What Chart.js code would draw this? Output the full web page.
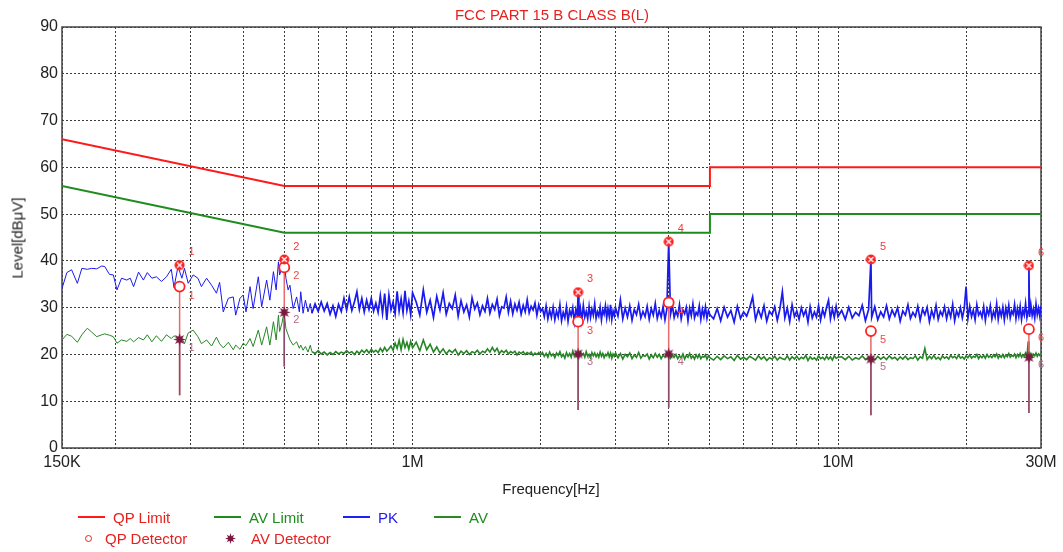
<!DOCTYPE html>
<html>
<head>
<meta charset="utf-8">
<title>FCC PART 15 B CLASS B(L)</title>
<script src="https://cdn.jsdelivr.net/npm/chart.js@4.4.1/dist/chart.umd.min.js"></script>
<style>
  body { margin: 0; background: #fff; font-family: Arial, "Liberation Sans", sans-serif; }
  #wrap { position: relative; width: 1063px; height: 552px; overflow: hidden; }
  #plot { position: absolute; left: 0; top: 0; }
  .txt { position: absolute; white-space: nowrap; font-size: 15px; line-height: 15px; }
  .title { left: 552px; top: 7px; transform: translateX(-50%); color: #e8201e; }
  .xtitle { left: 551px; top: 481px; transform: translateX(-50%); color: #222; }
  .ytitle { left: 17px; top: 238px; transform: translate(-50%, -50%) rotate(-90deg); color: #222; }
  .leg { position: absolute; display: flex; align-items: center; height: 16px; font-size: 15px; white-space: nowrap; }
  .swatch { width: 27px; height: 2px; margin-right: 8px; }
  .ring { width: 5px; height: 5px; border: 1.5px solid #e8201e; border-radius: 50%; margin-right: 13px; }
</style>
</head>
<body>
<div id="wrap">
  <canvas id="plot" width="1063" height="552"></canvas>
  <div class="txt title">FCC PART 15 B CLASS B(L)</div>
  <div class="txt xtitle">Frequency[Hz]</div>
  <div class="txt ytitle">Level[dBμV]</div>

  <div class="leg" style="left:78px;top:509px;color:#e8201e"><span class="swatch" style="background:#ff1a1a"></span>QP Limit</div>
  <div class="leg" style="left:214px;top:509px;color:#1e8c1e"><span class="swatch" style="background:#1e8c1e"></span>AV Limit</div>
  <div class="leg" style="left:343px;top:509px;color:#2020e8"><span class="swatch" style="background:#2020f0"></span>PK</div>
  <div class="leg" style="left:434px;top:509px;color:#1e8c1e"><span class="swatch" style="background:#2a8a2a"></span>AV</div>
  <div class="leg" style="left:85px;top:530px;color:#e8201e"><span class="ring"></span>QP Detector</div>
  <div class="leg" style="left:224px;top:530px;color:#e8201e"><canvas id="legStar" width="13" height="13" style="margin-right:14px"></canvas>AV Detector</div>
</div>
<script>
// limit lines (MHz, dBuV)
const limitFreq = [0.15, 0.5, 5, 5, 30];
const qpLimit = [66, 56, 56, 60, 60];
const avLimit = [56, 46, 46, 50, 50];

// sweep data, frequencies in kHz
const sweep1Khz = [150,154,158,163,167,172,176,181,186,189,
  194,198,202,207,213,217,221,227,233,238,
  244,250,257,264,271,275,281,287,291,297,
  305,313,319,328,337,346,352,359,369,379,
  384,393,400,406,415,422,434,442,454,462,
  471,478,484,487,493,499,504,510,515,524,
  534,542,546,553,560,568,575];
const pk1 = [34.1,37.5,38.1,35.2,38.4,38.2,38.4,38.3,38.9,38.8,
  37.1,37.0,33.8,36.3,35.9,36.3,34.5,37.6,35.9,37.5,
  36.3,36.6,35.6,36.6,38.2,34.3,38.8,36.3,38.4,35.2,
  37.0,36.3,34.5,36.3,34.8,33.1,35.4,29.1,32.0,32.3,
  28.4,32.0,32.7,29.1,34.5,29.8,36.6,30.2,35.9,31.6,
  37.7,33.8,39.8,37.0,38.5,40.3,36.3,33.8,34.8,29.8,
  32.3,29.1,33.4,28.8,31.6,29.1,30.9];
const av1 = [23.1,24.3,23.9,22.6,24.2,25.6,24.8,23.8,24.2,24.4,
  24.1,23.8,22.4,23.1,22.8,23.4,22.7,23.6,23.1,24.2,
  22.7,24.0,22.8,24.2,23.4,24.0,23.3,23.4,22.3,24.6,
  25.2,23.8,22.3,23.1,21.8,23.7,22.3,21.4,22.6,21.0,
  22.0,21.1,22.4,21.9,23.4,21.7,25.2,22.0,25.9,22.0,
  27.0,23.1,28.4,24.9,26.6,29.2,25.5,24.2,23.1,22.0,
  22.7,21.3,22.0,20.9,21.7,20.5,22.0];

const sweep2Khz = [580,590,600,610,620,630,640,650,660,670,
  680,690,700,710,720,730,740,750,760,770,
  780,790,800,810,820,830,840,850,860,870,
  880,890,900,910,920,930,940,950,960,970,
  980,990,1000];
const pk2 = [28.8,30.8,29.2,31.2,29.3,30.9,28.6,30.4,28.1,30.7,
  29.2,32.0,29.5,32.3,29.4,31.2,33.4,29.6,32.0,29.1,
  31.6,29.6,32.0,29.3,31.0,29.0,32.6,28.8,33.0,27.4,
  32.7,29.5,31.2,28.7,33.5,29.3,31.9,28.9,33.6,29.4,
  31.4,28.5,33.2];
const av2 = [20.6,20.2,20.8,20.1,20.5,19.9,20.4,20.0,20.6,20.1,
  20.5,20.2,20.8,20.3,20.6,20.0,20.7,20.2,20.9,20.4,
  21.0,20.3,21.1,20.5,20.9,20.4,21.3,20.6,21.5,20.7,
  21.2,21.8,20.9,22.4,21.3,23.0,21.0,23.2,21.5,22.6,
  21.1,22.8,21.4];

const sweep3Khz = [1020,1040,1060,1080,1100,1120,1140,1160,1180,1200,
  1220,1240,1260,1280,1300,1320,1340,1360,1380,1400,
  1420,1440,1460,1480,1500,1520,1540,1560,1580,1600,
  1620,1640,1660,1680,1700,1720,1740,1760,1780,1800,
  1820,1840,1860,1880,1900,1920,1940,1960,1980,2000];
const pk3 = [31.2,28.4,33.8,29.0,31.6,27.9,32.4,29.5,33.2,28.6,
  30.9,29.8,32.7,28.2,31.5,29.1,30.6,28.0,32.1,29.7,
  31.0,28.5,30.4,29.2,32.0,28.8,30.7,29.6,31.8,28.3,
  30.2,29.9,32.3,29.0,31.4,28.7,30.8,29.4,31.2,28.6,
  30.5,29.1,31.7,28.9,30.3,29.5,31.0,28.4,30.6,29.2];
const av3 = [22.6,20.8,23.1,21.0,22.2,20.5,21.6,20.3,21.2,20.1,
  20.9,20.4,21.1,19.9,20.7,20.2,20.8,20.0,20.6,20.3,
  20.9,20.1,20.7,20.4,21.2,20.5,21.5,20.6,21.3,20.2,
  20.8,20.4,20.9,20.1,20.6,20.3,20.7,19.9,20.5,20.2,
  20.6,20.0,20.4,20.1,20.5,19.8,20.3,20.0,20.4,19.9];

const sweep4Khz = [2020,2040,2060,2080,2100,2120,2140,2160,2180,2200,
  2220,2240,2260,2280,2300,2320,2340,2360,2380,2400,
  2420,2440,2450,2460,2480,2500,2520,2540,2560,2580,
  2600,2620,2640,2660,2680,2700,2720,2740,2760,2780,
  2800,2820,2840,2860,2880,2900,2920,2940,2960,2980,
  3000];
const pk4 = [29.8,28.1,30.4,27.6,29.5,27.9,30.1,27.4,29.3,28.0,
  30.6,27.2,29.0,27.8,30.2,27.1,29.4,28.3,30.0,27.0,
  29.6,28.2,33.3,27.5,29.9,27.3,30.5,28.0,29.2,27.6,
  30.3,27.9,29.7,28.4,30.8,27.7,29.1,28.2,30.1,27.4,
  29.5,28.6,30.4,27.8,29.8,28.1,30.6,27.5,29.3,28.3,
  30.0];
const av4 = [20.4,19.6,20.2,19.4,20.5,19.7,20.1,19.3,20.3,19.8,
  20.6,19.5,20.0,19.2,20.4,19.6,20.2,19.4,20.7,19.7,
  20.1,19.5,20.1,19.3,20.5,19.8,20.2,19.4,20.6,19.6,
  20.0,19.3,20.4,19.7,20.3,19.5,20.1,19.4,20.5,19.6,
  20.2,19.3,20.0,19.7,20.4,19.5,20.3,19.2,20.1,19.6,
  20.3];

const sweep5Khz = [3040,3080,3120,3160,3200,3240,3280,3320,3360,3400,
  3440,3480,3520,3560,3600,3640,3680,3720,3760,3800,
  3840,3880,3920,3960,4000,4040,4080,4120,4160,4200,
  4240,4280,4320,4360,4400,4440,4480,4520,4560,4600,
  4640,4680,4720,4760,4800,4840,4880,4920,4960,5000];
const pk5 = [28.2,31.7,27.6,29.9,28.0,30.4,27.3,29.6,28.5,30.7,
  27.8,29.2,28.1,30.3,27.5,29.8,28.4,30.9,27.7,29.4,
  28.0,30.2,27.4,29.7,44.1,28.6,30.5,27.9,29.3,28.2,
  30.6,27.6,29.5,28.7,30.1,27.2,29.9,28.3,30.8,27.8,
  29.0,28.4,30.4,27.5,29.7,28.1,30.2,27.7,29.4,28.5];
const av5 = [19.3,20.2,19.0,20.0,19.5,20.3,19.1,19.9,19.4,20.4,
  19.2,19.8,19.6,20.1,19.0,19.9,19.3,20.2,19.4,20.0,
  19.1,19.8,19.5,20.3,20.1,19.2,19.9,19.4,20.0,19.1,
  19.7,19.3,20.1,19.0,19.8,19.4,20.2,19.2,19.7,19.0,
  19.9,19.3,20.0,19.1,19.6,19.4,19.9,19.0,19.7,19.3];

const sweep6Khz = [5100,5200,5300,5400,5500,5600,5700,5800,5900,6000,
  6100,6200,6300,6400,6500,6600,6700,6800,6900,7000,
  7100,7200,7300,7400,7500,7600,7700,7800,7900,8000,
  8100,8200,8300,8400,8500,8600,8700,8800,8900,9000,
  9100,9200,9300,9400,9500,9600,9700,9800,9900,10000];
const pk6 = [27.6,29.8,27.2,30.1,28.0,29.4,26.9,30.3,27.7,29.1,
  28.2,30.0,32.3,27.4,29.6,27.9,30.4,27.1,29.2,28.5,
  30.2,27.3,29.7,33.4,27.8,29.9,27.0,30.6,28.1,29.3,
  27.5,30.0,28.3,29.5,26.9,30.2,27.8,29.1,28.0,30.4,
  27.4,29.6,28.2,30.1,31.6,27.6,29.8,27.9,30.3,28.1];
const av6 = [18.8,19.6,18.9,19.7,19.1,19.5,18.7,19.8,19.0,19.4,
  18.9,19.6,19.2,18.8,19.7,19.0,19.5,18.7,19.3,19.0,
  19.6,18.8,19.4,19.1,18.9,19.7,18.8,19.5,19.0,19.6,
  18.9,19.4,19.1,19.8,18.7,19.5,19.0,19.3,18.8,19.7,
  19.1,19.4,18.9,19.6,19.0,19.5,18.8,19.7,19.2,19.4];

const sweep7Khz = [10200,10400,10600,10800,11000,11200,11400,11600,11800,11950,12000,
  12200,12400,12600,12800,13000,13200,13400,13600,13800,14000,
  14200,14400,14600,14800,15000,15200,15400,15600,15800,16000,
  16200,16400,16600,16800,17000,17200,17400,17600,17800,18000,
  18200,18400,18600,18800,19000,19200,19400,19600,19800,20000,
  20200,20400,20600,20800,21000,21200,21400,21600,21800,22000,
  22200,22400,22600,22800,23000,23200,23400,23600,23800,24000,
  24200,24400,24600,24800,25000,25200,25400,25600,25800,26000,
  26200,26400,26600,26800,27000,27200,27400,27600,27800,28000,28100,
  28200,28400,28600,28800,29000,29200,29400,29600,29800,30000];
const pk7 = [29.4,27.5,30.1,27.8,29.0,28.3,30.5,27.2,29.6,40.3,27.9,
  30.2,27.4,29.1,28.0,30.4,27.6,29.5,28.2,30.0,27.1,
  29.3,28.4,30.6,27.7,29.0,28.1,30.3,27.3,29.7,28.5,
  30.1,27.0,29.4,27.9,30.5,27.5,29.2,28.3,30.2,27.6,
  29.6,28.0,30.7,27.2,29.3,28.2,30.0,27.8,29.8,34.5,
  27.7,30.3,28.1,29.5,27.4,30.6,28.4,29.1,27.9,30.2,
  27.3,29.7,28.5,30.4,27.6,29.2,28.0,30.8,27.5,29.6,
  28.2,30.1,27.4,29.9,28.3,30.5,27.8,29.3,28.6,30.7,
  27.7,29.8,28.1,30.3,27.5,29.5,28.4,30.9,27.9,29.4,39.0,
  28.0,30.6,28.3,29.7,27.8,30.8,28.5,29.9,28.2,30.4];
const av7 = [19.5,18.9,19.6,18.8,19.3,19.0,19.7,18.9,19.4,19.0,19.2,
  18.8,19.6,19.0,19.5,18.9,19.7,19.1,19.4,18.8,19.5,
  19.0,19.6,18.9,19.3,19.1,19.7,18.8,19.5,19.2,21.3,
  18.9,19.6,19.1,19.8,19.0,19.4,18.9,19.7,19.2,19.5,
  19.0,19.8,19.3,19.6,19.1,19.9,19.2,19.5,19.0,19.7,
  19.3,19.9,19.2,19.6,19.4,20.0,19.1,19.7,19.3,19.8,
  19.2,20.0,19.4,19.7,19.3,19.9,19.5,20.1,19.2,19.8,
  19.4,20.0,19.3,19.9,19.5,20.2,19.4,19.8,19.6,20.1,
  19.3,20.0,19.5,20.2,19.4,19.9,19.6,20.3,19.5,22.8,19.4,
  19.6,20.2,19.5,20.0,19.7,20.3,19.6,20.1,19.8,20.2];

// final measurement markers (MHz, dBuV)
const markerFreq = [0.2835, 0.4995, 2.45, 4.0, 11.95, 28.1];
const markerPk = [39.1, 40.3, 33.3, 44.1, 40.3, 39.0];
const markerQp = [34.5, 38.6, 27.0, 31.1, 25.0, 25.4];
const markerAv = [23.2, 29.0, 20.1, 20.1, 19.0, 19.4];
const markerBase = [11.3, 17.4, 8.1, 8.6, 7.0, 7.5];
const markerNames = ['1', '2', '3', '4', '5', '6'];

// x axis grid and labels (MHz)
const gridMHz = [0.15, 0.2, 0.3, 0.4, 0.5, 0.6, 0.7, 0.8, 0.9,
  1, 2, 3, 4, 5, 6, 7, 8, 9, 10, 20, 30];
const tickValues = [0.15, 1, 10, 30];
const tickLabels = ['150K', '1M', '10M', '30M'];

// build point lists
const bands = [
  [sweep1Khz, pk1, av1], [sweep2Khz, pk2, av2], [sweep3Khz, pk3, av3],
  [sweep4Khz, pk4, av4], [sweep5Khz, pk5, av5], [sweep6Khz, pk6, av6],
  [sweep7Khz, pk7, av7]
];
const pkPoints = [];
const avPoints = [];
bands.forEach(([f, pk, av]) => {
  f.forEach((k, i) => {
    pkPoints.push({ x: k / 1000, y: pk[i] });
    avPoints.push({ x: k / 1000, y: av[i] });
  });
});

const toPoints = (xs, ys) => xs.map((x, i) => ({ x: x, y: ys[i] }));
const stem = (top) => markerFreq.flatMap((f, i) => [
  { x: f, y: markerBase[i] }, { x: f, y: top[i] }, { x: f, y: null }
]);
// the dense part of the sweep is drawn a bit heavier, like the receiver plot
const denseWidth = (thin, thick) => (c) => (c.p0.parsed.x >= 0.58 ? thick : thin);

function makePkIcon() {
  const c = document.createElement('canvas');
  c.width = 11; c.height = 11;
  const g = c.getContext('2d');
  g.fillStyle = '#ff2020';
  g.beginPath(); g.arc(5.5, 5.5, 5, 0, Math.PI * 2); g.fill();
  g.strokeStyle = '#ffffff'; g.lineWidth = 1.3;
  g.beginPath(); g.moveTo(3, 3); g.lineTo(8, 8); g.moveTo(8, 3); g.lineTo(3, 8); g.stroke();
  return c;
}

function makeAvIcon(size) {
  const c = document.createElement('canvas');
  c.width = size; c.height = size;
  const g = c.getContext('2d');
  const m = size / 2;
  g.fillStyle = '#7a1840';
  g.beginPath();
  for (let i = 0; i < 16; i++) {
    const r = i % 2 ? m * 0.45 : m * 0.98;
    const a = i * Math.PI / 8;
    g.lineTo(m + r * Math.cos(a), m + r * Math.sin(a));
  }
  g.closePath(); g.fill();
  return c;
}

const pkIcon = makePkIcon();
const avIcon = makeAvIcon(13);
document.getElementById('legStar').getContext('2d').drawImage(makeAvIcon(11), 1, 1);

// frame around plot area
const plotFrame = {
  id: 'plotFrame',
  beforeDatasetsDraw(chart) {
    const { left, top, right, bottom } = chart.chartArea;
    const ctx = chart.ctx;
    ctx.save();
    ctx.strokeStyle = '#444';
    ctx.lineWidth = 1.5;
    ctx.strokeRect(left, top, right - left, bottom - top);
    ctx.restore();
  }
};

// small numbers next to each marker
const markerText = {
  id: 'markerText',
  afterDatasetsDraw(chart) {
    const ctx = chart.ctx;
    const styles = [['pk', 9, -13, '#f03a3a'], ['qp', 9, 9, '#f04848'], ['av', 9, 8, '#b86a86']];
    ctx.save();
    ctx.font = '11px Arial';
    ctx.textAlign = 'left';
    ctx.textBaseline = 'middle';
    styles.forEach(([tag, dx, dy, color]) => {
      const idx = chart.data.datasets.findIndex(d => d.tag === tag);
      ctx.fillStyle = color;
      chart.getDatasetMeta(idx).data.forEach((pt, i) => {
        ctx.fillText(markerNames[i], pt.x + dx, pt.y + dy);
      });
    });
    ctx.restore();
  }
};

const ctx = document.getElementById('plot').getContext('2d');
new Chart(ctx, {
  type: 'line',
  data: {
    datasets: [
      { tag: 'pk', data: toPoints(markerFreq, markerPk), showLine: false,
        pointStyle: pkIcon, pointRadius: 5, order: 1 },
      { tag: 'av', data: toPoints(markerFreq, markerAv), showLine: false,
        pointStyle: avIcon, pointRadius: 6, order: 2 },
      { tag: 'qp', data: toPoints(markerFreq, markerQp), showLine: false,
        pointStyle: 'circle', pointRadius: 5, pointBorderWidth: 1.8,
        pointBorderColor: '#ff2020', pointBackgroundColor: '#ffffff', order: 3 },
      { data: stem(markerAv), borderColor: '#8a4a6a', borderWidth: 1.5,
        pointRadius: 0, spanGaps: false, order: 4 },
      { data: stem(markerQp), borderColor: '#e86a6a', borderWidth: 1.5,
        pointRadius: 0, spanGaps: false, order: 5 },
      { label: 'QP Limit', data: toPoints(limitFreq, qpLimit), borderColor: '#ff1a1a',
        borderWidth: 2, pointRadius: 0, order: 6 },
      { label: 'AV Limit', data: toPoints(limitFreq, avLimit), borderColor: '#1e8c1e',
        borderWidth: 2, pointRadius: 0, order: 7 },
      { label: 'PK', data: pkPoints, borderColor: '#1a1aee', borderWidth: 1,
        segment: { borderWidth: denseWidth(1, 1.7) }, pointRadius: 0, order: 8 },
      { label: 'AV', data: avPoints, borderColor: '#268626', borderWidth: 1,
        segment: { borderWidth: denseWidth(1, 1.6) }, pointRadius: 0, order: 9 }
    ]
  },
  options: {
    responsive: false,
    animation: false,
    layout: { padding: { top: 27, right: 22, left: 0, bottom: 0 } },
    plugins: { legend: { display: false }, tooltip: { enabled: false } },
    scales: {
      x: {
        type: 'logarithmic',
        min: 0.15,
        max: 30,
        afterFit: (s) => { s.height = 104; },
        afterBuildTicks: (s) => { s.ticks = gridMHz.map(v => ({ value: v })); },
        ticks: {
          autoSkip: false,
          maxRotation: 0,
          padding: 5,
          color: '#222',
          font: { family: 'Arial', size: 16 },
          callback: (v) => {
            const i = tickValues.indexOf(v);
            return i < 0 ? '' : tickLabels[i];
          }
        },
        grid: { color: '#3a3a3a', lineWidth: 1, drawTicks: false },
        border: { display: false, dash: [2, 2] }
      },
      y: {
        min: 0,
        max: 90,
        afterFit: (s) => { s.width = 62; },
        ticks: { stepSize: 10, padding: 4, color: '#222', font: { family: 'Arial', size: 16 } },
        grid: { color: '#3a3a3a', lineWidth: 1, drawTicks: false },
        border: { display: false, dash: [2, 2] }
      }
    }
  },
  plugins: [plotFrame, markerText]
});
</script>
</body>
</html>
